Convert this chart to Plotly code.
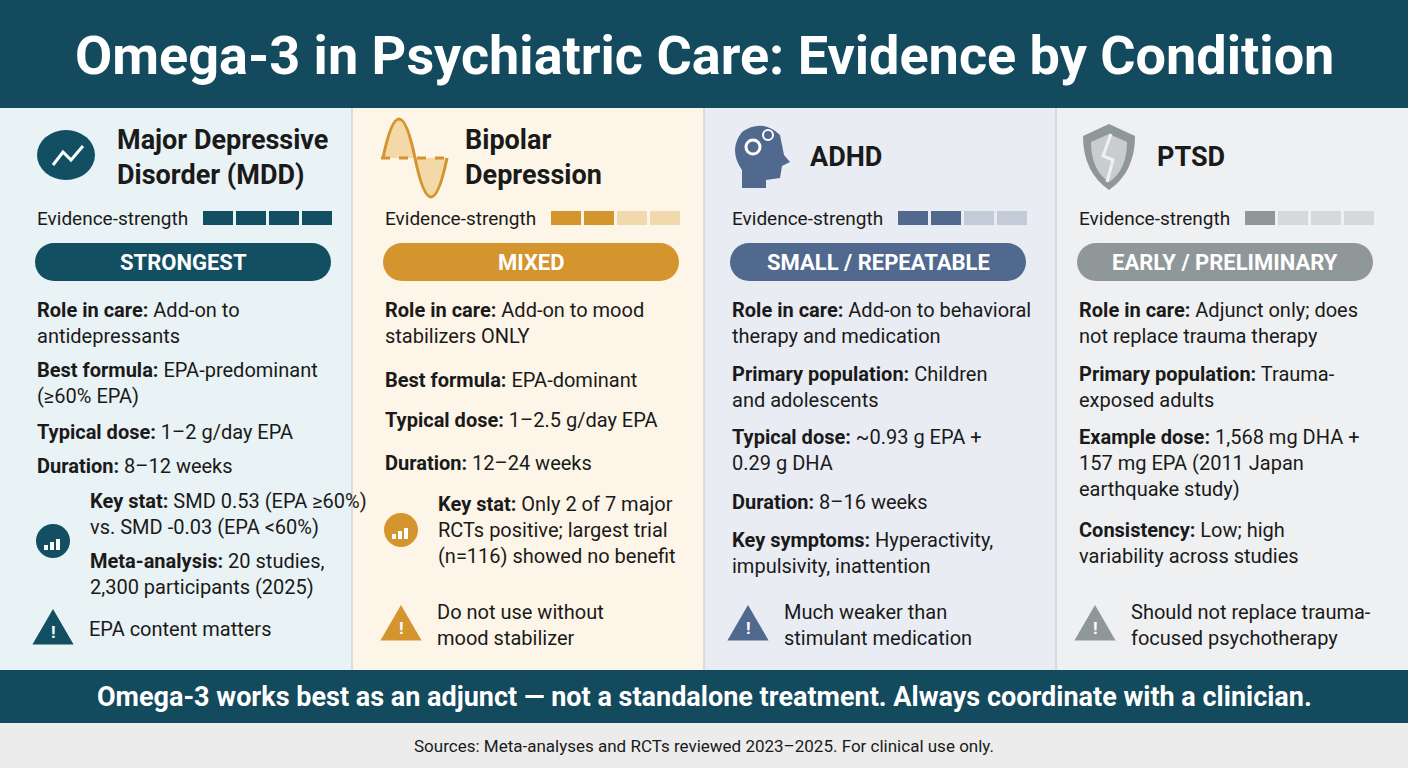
import plotly.graph_objects as go

conditions = ["MDD", "Bipolar", "ADHD", "PTSD"]
headings = ["Major Depressive<br>Disorder (MDD)", "Bipolar<br>Depression", "ADHD", "PTSD"]
strength = [4, 2, 2, 1]
strength_max = 4
badges = ["STRONGEST", "MIXED", "SMALL / REPEATABLE", "EARLY / PRELIMINARY"]
warnings = ["EPA content matters", "Do not use without<br>mood stabilizer",
            "Much weaker than<br>stimulant medication", "Should not replace trauma-<br>focused psychotherapy"]
blocks = [
    [("Role in care:", " Add-on to<br>antidepressants"), ("Best formula:", " EPA-predominant<br>(≥60% EPA)"),
     ("Typical dose:", " 1–2 g/day EPA"), ("Duration:", " 8–12 weeks")],
    [("Role in care:", " Add-on to mood<br>stabilizers ONLY"), ("Best formula:", " EPA-dominant"),
     ("Typical dose:", " 1–2.5 g/day EPA"), ("Duration:", " 12–24 weeks")],
    [("Role in care:", " Add-on to behavioral<br>therapy and medication"), ("Primary population:", " Children<br>and adolescents"),
     ("Typical dose:", " ~0.93 g EPA +<br>0.29 g DHA"), ("Duration:", " 8–16 weeks"),
     ("Key symptoms:", " Hyperactivity,<br>impulsivity, inattention")],
    [("Role in care:", " Adjunct only; does<br>not replace trauma therapy"), ("Primary population:", " Trauma-<br>exposed adults"),
     ("Example dose:", " 1,568 mg DHA +<br>157 mg EPA (2011 Japan<br>earthquake study)"),
     ("Consistency:", " Low; high<br>variability across studies")],
]
block_y = [[323, 383, 432, 466], [323, 380, 420, 463], [323, 387, 450, 502, 553], [323, 387, 463, 543]]
keystats = [
    [("Key stat:", " SMD 0.53 (EPA ≥60%)<br>vs. SMD -0.03 (EPA <60%)"), ("Meta-analysis:", " 20 studies,<br>2,300 participants (2025)")],
    [("Key stat:", " Only 2 of 7 major<br>RCTs positive; largest trial<br>(n=116) showed no benefit")],
    None, None,
]
keystat_y = [[514, 574], [530]]
title = "Omega-3 in Psychiatric Care: Evidence by Condition"
footer = "Omega-3 works best as an adjunct — not a standalone treatment. Always coordinate with a clinician."
sources = "Sources: Meta-analyses and RCTs reviewed 2023–2025. For clinical use only."

main = ["#134f63", "#d4952e", "#51698e", "#8f9799"]
light = ["#134f63", "#f0d9ac", "#c3cad8", "#d5d9db"]
bgs = ["#e9f2f4", "#fdf5e7", "#e9ecf3", "#eff0f1"]
TXT = "#1a1a1a"
F = "Roboto"
FS = 20

shapes, ann = [], []
W = 352
for i in range(4):
    x0 = i * W
    shapes.append(dict(type="rect", x0=x0, x1=x0 + W, y0=108, y1=670, fillcolor=bgs[i], line_width=0, layer="below"))
    if i:
        shapes.append(dict(type="line", x0=x0, x1=x0, y0=108, y1=670, line=dict(color="#cfd4d8", width=1.5)))
shapes += [
    dict(type="rect", x0=0, x1=1408, y0=0, y1=108, fillcolor="#134a5d", line_width=0),
    dict(type="rect", x0=0, x1=1408, y0=670, y1=723, fillcolor="#134a5d", line_width=0),
    dict(type="rect", x0=0, x1=1408, y0=723, y1=768, fillcolor="#ececec", line_width=0),
]
ann.append(dict(x=704, y=55, text=f"<b>{title}</b>", font=dict(size=54, color="white", family=F), showarrow=False))
ann.append(dict(x=704, y=697, text=f"<b>{footer}</b>", font=dict(size=27, color="white", family=F), showarrow=False))
ann.append(dict(x=704, y=746, text=sources, font=dict(size=17, color=TXT, family=F), showarrow=False))

for i in range(4):
    x0 = [35, 383, 730, 1077][i]
    c = main[i]
    ix = x0 + 32
    if i == 0:
        shapes.append(dict(type="circle", x0=ix - 30, x1=ix + 28, y0=130, y1=180, fillcolor=c, line_width=0))
        shapes.append(dict(type="path", path=f"M{ix-14},{165} L{ix-4},{152} L{ix+4},{160} L{ix+16},{146}",
                           line=dict(color="white", width=3)))
    elif i == 1:
        shapes.append(dict(type="path", path=f"M{ix-32},158 Q{ix-16},80 {ix},158 Q{ix+16},236 {ix+32},158",
                           line=dict(color=c, width=3), fillcolor="#f3d9a8"))
        shapes.append(dict(type="line", x0=ix - 34, x1=ix + 34, y0=158, y1=158, line=dict(color=c, width=3, dash="dash")))
    elif i == 2:
        shapes.append(dict(type="path", path=f"M{ix-20},188 L{ix-20},170 Q{ix-34},150 {ix-20},132 Q{ix},118 {ix+18},135 L{ix+22},155 L{ix+28},162 L{ix+20},166 L{ix+18},178 L{ix+4},180 L{ix+4},188 Z",
                           fillcolor=c, line_width=0))
        shapes.append(dict(type="circle", x0=ix - 16, x1=ix - 2, y0=140, y1=154, line=dict(color="white", width=3)))
        shapes.append(dict(type="circle", x0=ix + 1, x1=ix + 11, y0=130, y1=140, line=dict(color="white", width=2)))
    else:
        shapes.append(dict(type="path", path=f"M{ix},124 L{ix+26},136 Q{ix+26},172 {ix},190 Q{ix-26},172 {ix-26},136 Z",
                           fillcolor=c, line_width=0))
        shapes.append(dict(type="path", path=f"M{ix},134 L{ix+18},142 Q{ix+18},170 {ix},182 Q{ix-18},170 {ix-18},142 Z",
                           fillcolor="#c9cdcf", line_width=0))
        shapes.append(dict(type="path", path=f"M{ix+2},134 L{ix-6},156 L{ix+4},160 L{ix-2},182",
                           line=dict(color="#eff0f1", width=3)))
    hx = x0 + 80 if i < 2 else x0 + 78
    ann.append(dict(x=hx, y=157, text=f"<b>{headings[i]}</b>", xanchor="left", align="left",
                    font=dict(size=27, color=TXT, family=F), showarrow=False))
    ann.append(dict(x=x0, y=218, text="Evidence-strength", xanchor="left", font=dict(size=19, color=TXT, family=F), showarrow=False))
    for s in range(strength_max):
        sx = x0 + 168 + s * 33
        shapes.append(dict(type="rect", x0=sx, x1=sx + 30, y0=211, y1=225, line_width=0,
                           fillcolor=c if s < strength[i] else light[i]))
    # pill
    shapes.append(dict(type="rect", x0=x0 + 19, x1=x0 + 277, y0=243, y1=281, fillcolor=c, line_width=0))
    shapes.append(dict(type="circle", x0=x0, x1=x0 + 38, y0=243, y1=281, fillcolor=c, line_width=0))
    shapes.append(dict(type="circle", x0=x0 + 258, x1=x0 + 296, y0=243, y1=281, fillcolor=c, line_width=0))
    ann.append(dict(x=x0 + 148, y=262, text=f"<b>{badges[i]}</b>", font=dict(size=22, color="white", family=F), showarrow=False))
    for (lab, txt), yy in zip(blocks[i], block_y[i]):
        ann.append(dict(x=x0, y=yy, text=f"<b>{lab}</b>{txt}", xanchor="left", align="left", yanchor="middle",
                        font=dict(size=FS, color=TXT, family=F), showarrow=False))
    if keystats[i]:
        kx = x0 + 53
        cy = 541 if i == 0 else 530
        shapes.append(dict(type="circle", x0=x0 + 1, x1=x0 + 35, y0=cy - 17, y1=cy + 17, fillcolor=c, line_width=0))
        for b, h in enumerate([5, 8, 11]):
            shapes.append(dict(type="rect", x0=x0 + 9 + b * 6, x1=x0 + 13 + b * 6, y0=cy + 9 - h, y1=cy + 9, fillcolor="white", line_width=0))
        for (lab, txt), yy in zip(keystats[i], keystat_y[i]):
            ann.append(dict(x=kx, y=yy, text=f"<b>{lab}</b>{txt}", xanchor="left", align="left",
                            font=dict(size=FS, color=TXT, family=F), showarrow=False))
    ty = 629 if i == 0 else 625
    shapes.append(dict(type="path", path=f"M{x0+18},{ty-17} L{x0+36},{ty+14} L{x0},{ty+14} Z", fillcolor=c, line=dict(color=c, width=3)))
    ann.append(dict(x=x0 + 18, y=ty + 3, text="<b>!</b>", font=dict(size=17, color="white", family=F), showarrow=False))
    ann.append(dict(x=x0 + 52, y=ty, text=warnings[i], xanchor="left", align="left",
                    font=dict(size=FS, color=TXT, family=F), showarrow=False))

fig = go.Figure()
fig.update_layout(width=1408, height=768, margin=dict(l=0, r=0, t=0, b=0), plot_bgcolor="white", paper_bgcolor="white",
                  xaxis=dict(range=[0, 1408], visible=False, fixedrange=True),
                  yaxis=dict(range=[768, 0], visible=False, fixedrange=True),
                  shapes=shapes, annotations=ann, showlegend=False)
fig.write_html("out.html", config={"displayModeBar": False},
               post_script="document.body.style.margin='0';document.body.style.overflow='hidden';")
